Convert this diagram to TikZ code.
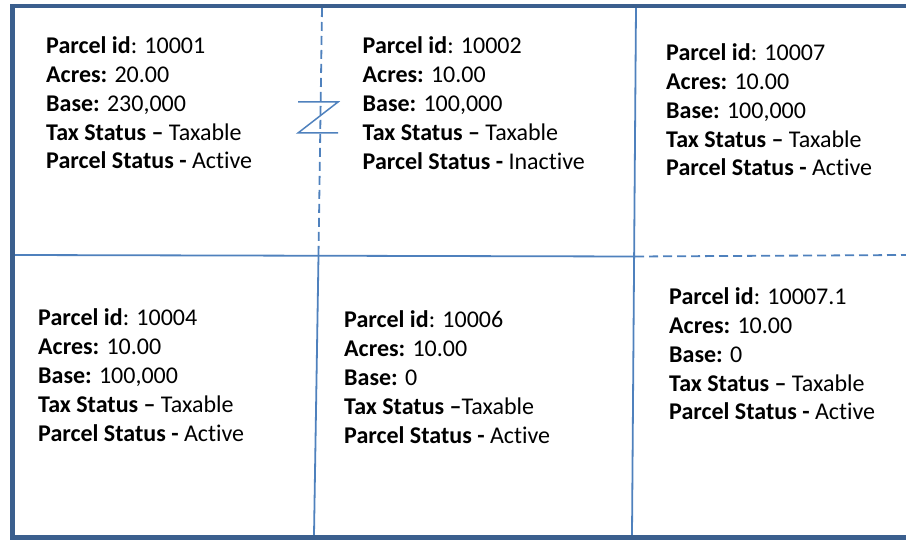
\documentclass[tikz,border=0pt]{standalone}
\usepackage{fontspec}
\setmainfont{Carlito}[Ligatures={NoCommon}]
\definecolor{frameblue}{RGB}{59,95,142}
\definecolor{lineblue}{RGB}{79,129,189}
\tikzset{
  % the base anchor of a multi-line node sits on its last line
  parcel/.style={anchor=base west, inner sep=0pt, align=left,
    font=\fontsize{24}{28.9}\selectfont},
  gridline/.style={draw=lineblue, line width=1.8pt},
  griddash/.style={draw=lineblue, line width=1.8pt, dash pattern=on 9pt off 5pt},
  frame/.style={draw=frameblue, line width=4.8pt}
}
\newcommand{\parcelinfo}[5]{\textbf{Parcel id}: #1\\\textbf{Acres:} #2\\\textbf{Base:} #3\\#4\\\textbf{Parcel Status -} #5}
\begin{document}
\begin{tikzpicture}[x=1pt,y=-1pt]
\useasboundingbox (0,0) rectangle (906,540);

% grid corners
\coordinate (tl) at (12.5,6);
\coordinate (tr) at (906,6);
\coordinate (bl) at (12.5,537.5);
\coordinate (br) at (906,537.5);
\coordinate (midL) at (15,255);
\coordinate (midC) at (318.5,255.5);
\coordinate (midR) at (635,256.5);
\coordinate (midE) at (906,255);
\coordinate (topC) at (322,8);
\coordinate (botC) at (314,535);
\coordinate (topR) at (636,8);
\coordinate (botR) at (632,535);

% inner division lines
\draw[gridline] (midL) -- (midR);
\draw[griddash] (midR) -- (midE);
\draw[griddash] (topC) -- (midC);
\draw[gridline] (midC) -- (botC);
\draw[gridline] (topR) -- (botR);

% break mark across the dashed boundary
\coordinate (z1) at (298,102);
\coordinate (z2) at (338,102);
\coordinate (z3) at (298,133);
\coordinate (z4) at (338,133);
\draw[draw=lineblue, line width=1.5pt] (z1) -- (z2) -- (z3) -- (z4);

% outer frame, open on the right
\draw[frame] (tr) -- (tl) -- (bl) -- (br);

% parcel records (positions give the baseline of the last line)
\node[parcel] (p10001) at (46,169)
  {\parcelinfo{10001}{20.00}{230,000}{\textbf{Tax Status –} Taxable}{Active}};
\node[parcel] (p10002) at (362.5,169.5)
  {\parcelinfo{10002}{10.00}{100,000}{\textbf{Tax Status –} Taxable}{Inactive}};
\node[parcel] (p10007) at (666,176)
  {\parcelinfo{10007}{10.00}{100,000}{\textbf{Tax Status –} Taxable}{Active}};
\node[parcel] (p10004) at (38,441)
  {\parcelinfo{10004}{10.00}{100,000}{\textbf{Tax Status –} Taxable}{Active}};
\node[parcel] (p10006) at (344,443)
  {\parcelinfo{10006}{10.00}{0}{\textbf{Tax Status –}Taxable}{Active}};
\node[parcel] (p100071) at (669,420)
  {\parcelinfo{10007.1}{10.00}{0}{\textbf{Tax Status –} Taxable}{Active}};
\end{tikzpicture}
\end{document}
